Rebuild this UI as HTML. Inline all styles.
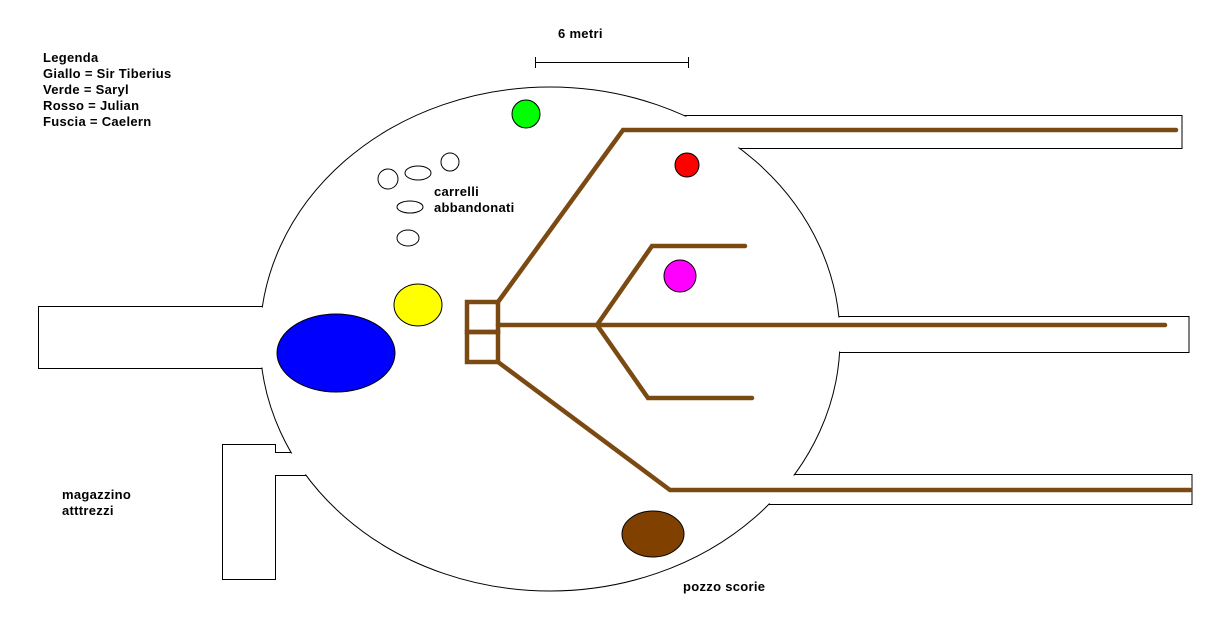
<!DOCTYPE html>
<html><head><meta charset="utf-8"><style>
body{margin:0;background:#fff;width:1217px;height:636px;overflow:hidden}
svg{display:block}
text{font-family:"Liberation Sans",sans-serif;font-weight:bold;font-size:13px;letter-spacing:0.3px;fill:#000}
</style></head><body>
<svg width="1217" height="636" viewBox="0 0 1217 636">
<g fill="#fff" stroke="#000" stroke-width="1">
<rect x="620" y="115.5" width="562" height="33"/>
<rect x="700" y="316.5" width="489" height="36"/>
<rect x="700" y="474.5" width="492" height="30"/>
<rect x="38.5" y="306.5" width="300" height="62"/>
<polygon points="222.5,444.5 275.5,444.5 275.5,452.5 300,452.5 320,475.5 275.5,475.5 275.5,579.5 222.5,579.5"/>
<ellipse cx="550" cy="339" rx="290" ry="252"/>
</g>
<g fill="#fff">
<rect x="600" y="116.5" width="160" height="31"/>
<rect x="780" y="317.5" width="80" height="34"/>
<rect x="740" y="475.5" width="80" height="28"/>
<rect x="200" y="307.5" width="80" height="60"/>
<rect x="276" y="453.5" width="40" height="21"/>
</g>
<g stroke="#7b4a12" stroke-width="4.5" fill="none" stroke-linecap="round">
<rect x="467" y="302" width="31" height="30" stroke-linecap="butt"/>
<rect x="467" y="332" width="31" height="30" stroke-linecap="butt"/>
<polyline points="498,302 623,130 1176,130"/>
<line x1="498" y1="325" x2="1165" y2="325"/>
<polyline points="498,362 670,490 1190,490"/>
<polyline points="597,325 652,246 745,246"/>
<polyline points="597,325 648,398 752,398"/>
</g>
<g stroke="#000" stroke-width="1">
<circle cx="526" cy="114" r="14" fill="#00ff00"/>
<circle cx="687" cy="165" r="12" fill="#ff0000"/>
<circle cx="680" cy="276" r="16" fill="#ff00ff"/>
<ellipse cx="418" cy="305" rx="24" ry="21" fill="#ffff00"/>
<ellipse cx="336" cy="353" rx="59" ry="39" fill="#0000ff"/>
<ellipse cx="653" cy="534" rx="31" ry="23" fill="#804000"/>
<g fill="#fff">
<circle cx="388" cy="179" r="10"/>
<ellipse cx="418" cy="173" rx="13" ry="7"/>
<circle cx="450" cy="162" r="9"/>
<ellipse cx="410" cy="207" rx="13" ry="6"/>
<ellipse cx="408" cy="238" rx="11" ry="8"/>
</g>
<line x1="535" y1="62.5" x2="688" y2="62.5"/>
<line x1="535.5" y1="57" x2="535.5" y2="68"/>
<line x1="688.5" y1="57" x2="688.5" y2="68"/>
</g>
<text x="558" y="38">6 metri</text>
<text x="43" y="62">Legenda</text>
<text x="43" y="78">Giallo = Sir Tiberius</text>
<text x="43" y="94">Verde = Saryl</text>
<text x="43" y="110">Rosso = Julian</text>
<text x="43" y="126">Fuscia = Caelern</text>
<text x="434" y="196">carrelli</text>
<text x="434" y="212">abbandonati</text>
<text x="62" y="499">magazzino</text>
<text x="62" y="515">atttrezzi</text>
<text x="683" y="591">pozzo scorie</text>
</svg>
</body></html>
